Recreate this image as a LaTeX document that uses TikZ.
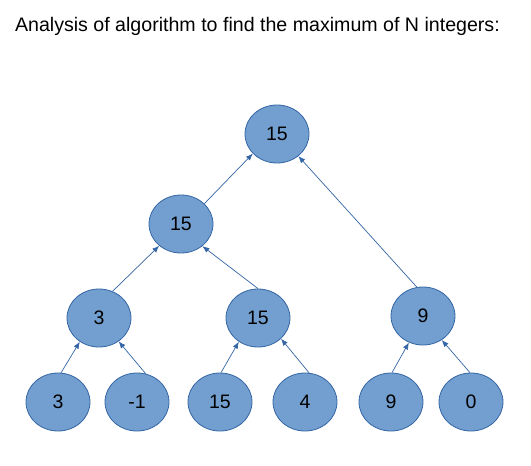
\documentclass[tikz,border=0pt]{standalone}
\usepackage{fontspec}
\setmainfont{Liberation Sans}
\usepackage{xcolor}
\usetikzlibrary{arrows.meta,positioning,shapes.geometric}
\definecolor{nodefill}{HTML}{729FCF}
\definecolor{nodeline}{HTML}{3465A4}
\tikzset{%
	vertex/.style = {draw=nodeline, fill=nodefill, line width=0.8pt, ellipse, minimum width=64pt, minimum height=58pt, inner sep=0pt, font=\fontsize{19.5}{21}\selectfont},
	arrow/.style  = {draw=nodeline, line width=0.7pt, -{Latex[length=7pt,width=5.5pt]}},
}
\begin{document}
\begin{tikzpicture}[x=1pt,y=-1pt]
	\useasboundingbox (0,0) rectangle (531,466);
	\node[anchor=base west, font=\fontsize{19.6}{22}\selectfont] (title) at (11.5,31) {Analysis of algorithm to find the maximum of N integers:};
	% tree levels
	\node[vertex] (root) at (277,134) {15};
	\node[vertex] (l) at (181,224) {15};
	\node[vertex] (ll) at (99,318) {3};
	\node[vertex] (lr) at (258,318) {15};
	\node[vertex] (r) at (423,316) {9};
	\node[vertex] (a) at (58,402) {3};
	\node[vertex] (b) at (137,402) {-1};
	\node[vertex] (c) at (220,402) {15};
	\node[vertex] (d) at (305,402) {4};
	\node[vertex] (e) at (391,402) {9};
	\node[vertex] (f) at (471,402) {0};
	% comparisons
	\draw[arrow] (a.84) -- (ll.231);
	\draw[arrow] (b.73) -- (ll.310);
	\draw[arrow] (c.88) -- (lr.231);
	\draw[arrow] (d.82) -- (lr.318);
	\draw[arrow] (e.88) -- (r.242);
	\draw[arrow] (f.92) -- (r.308);
	\draw[arrow] (ll.63) -- (l.225);
	\draw[arrow] (lr.90) -- (l.314);
	\draw[arrow] (l.41) -- (root.219);
	\draw[arrow] (r.102) -- (root.314);
\end{tikzpicture}
\end{document}
